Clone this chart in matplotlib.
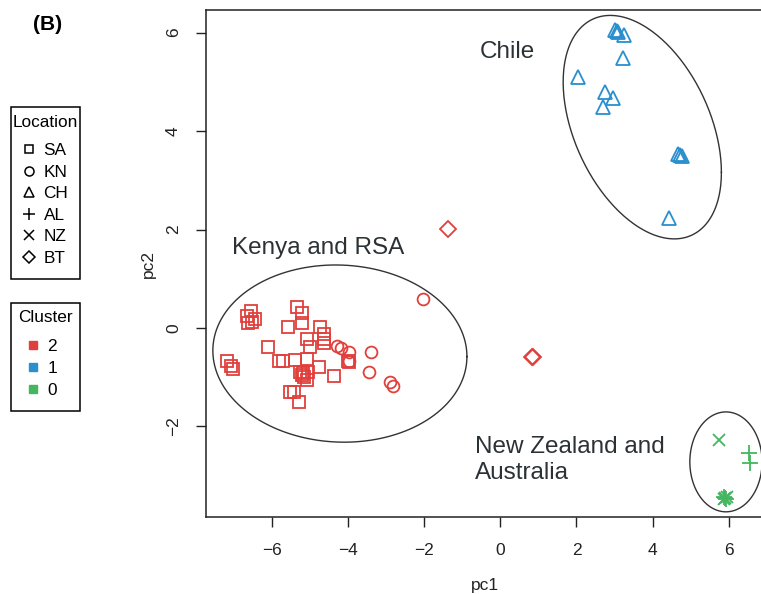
import numpy as np
import matplotlib
matplotlib.use("Agg")
import matplotlib.pyplot as plt
from matplotlib.lines import Line2D
from matplotlib.patches import Rectangle

plt.rcParams['font.family'] = ['Liberation Sans', 'DejaVu Sans']

# ---- data (pc1, pc2) ----
sa_x = [-6.56, -6.45, -6.67, -6.63, -6.54, -7.19, -7.09, -7.04, -5.35, -5.21,
        -5.59, -5.21, -6.10, -5.09, -5.00, -4.74, -4.64, -4.64, -4.64, -5.82,
        -5.71, -5.39, -5.09, -4.77, -5.22, -5.16, -5.09, -4.37, -4.01, -3.99,
        -5.53, -5.42, -5.30, -5.18, -5.27, -5.06]
sa_y = [0.35, 0.18, 0.24, 0.10, 0.13, -0.68, -0.77, -0.84, 0.42, 0.31,
        0.03, 0.10, -0.38, -0.23, -0.39, 0.01, -0.12, -0.23, -0.30, -0.68,
        -0.67, -0.65, -0.64, -0.79, -0.95, -0.99, -1.06, -0.97, -0.68, -0.70,
        -1.31, -1.31, -1.50, -0.91, -0.89, -0.89]

kn_x = [-2.04, -4.30, -4.20, -3.97, -3.97, -3.41, -3.46, -2.90, -2.83]
kn_y = [0.58, -0.37, -0.41, -0.49, -0.68, -0.49, -0.89, -1.09, -1.17]

ch_x = [3.02, 3.06, 3.09, 3.25, 3.23, 2.04, 2.75, 2.96, 2.71, 4.73, 4.67, 4.78, 4.44]
ch_y = [6.05, 6.04, 6.02, 5.95, 5.48, 5.10, 4.80, 4.68, 4.49, 3.51, 3.53, 3.49, 2.23]

al_x = [6.54, 6.57, 5.90, 5.93, 5.88]
al_y = [-2.53, -2.75, -3.45, -3.47, -3.44]

nz_x = [5.76, 5.91, 5.95, 5.89]
nz_y = [-2.27, -3.46, -3.44, -3.48]

bt_x = [-1.37, 0.84, 0.85]
bt_y = [2.02, -0.58, -0.59]

# cluster ellipses: centre and shape matrix
ell_centres = [(-4.22, -0.52), (3.73, 4.08), (5.93, -2.72)]
ell_shapes = [[[3.34 ** 2, -0.2], [-0.2, 1.80 ** 2]],
              [[2.08 ** 2, -1.91], [-1.91, 2.27 ** 2]],
              [[0.95 ** 2, 0.0], [0.0, 1.015 ** 2]]]

loc_names = ['SA', 'KN', 'CH', 'AL', 'NZ', 'BT']
cl_names = ['2', '1', '0']

red, blue, green = '#E0403C', '#2A8FCF', '#43B65F'
txt_col = '#2b3236'
W, H = 761, 594

fig = plt.figure(figsize=(W / 100, H / 100), dpi=100)
ax = fig.add_axes([206 / W, 77 / H, 558 / W, 507 / H])

mk = dict(linestyle='none', markerfacecolor='none', markeredgewidth=1.3)
ax.plot(sa_x, sa_y, marker='s', markersize=8, markeredgecolor=red, **mk)
ax.plot(kn_x, kn_y, marker='o', markersize=8.5, markeredgecolor=red, **mk)
ax.plot(bt_x, bt_y, marker='D', markersize=8, markeredgecolor=red, **mk)
ax.plot(ch_x, ch_y, marker='^', markersize=10, markeredgecolor=blue, **mk)
ax.plot(al_x, al_y, marker='+', markersize=12, markeredgecolor=green, **mk)
ax.plot(nz_x, nz_y, marker='x', markersize=8.5, markeredgecolor=green, **mk)

t = np.linspace(0, 2 * np.pi, 300)
for c, s in zip(ell_centres, ell_shapes):
    L = np.linalg.cholesky(np.array(s))
    pts = L @ np.vstack([np.cos(t), np.sin(t)])
    ax.plot(c[0] + pts[0], c[1] + pts[1], color='#333333', lw=1.0)

ax.text(0.18, 5.61, 'Chile', fontsize=17.5, color=txt_col, ha='center', va='center')
ax.text(-7.06, 1.62, 'Kenya and RSA', fontsize=17.5, color=txt_col, ha='left', va='center')
ax.text(-0.67, -2.68, 'New Zealand and\nAustralia', fontsize=17.5, color=txt_col,
        ha='left', va='center', linespacing=1.2)

ax.set_xlim(-7.74, 6.93)
ax.set_ylim(-3.84, 6.46)
ax.set_xticks([-6, -4, -2, 0, 2, 4, 6])
ax.set_yticks([-2, 0, 2, 4, 6])
ax.set_xticklabels(['\u22126', '\u22124', '\u22122', '0', '2', '4', '6'])
ax.set_yticklabels(['\u22122', '0', '2', '4', '6'], rotation=90, va='center')
ax.tick_params(direction='out', length=7, width=1, labelsize=12.5, colors='#222222')
ax.tick_params(axis='x', pad=12)
ax.tick_params(axis='y', pad=11)
for sp in ax.spines.values():
    sp.set_linewidth(1.1)
    sp.set_color('#222222')
ax.set_xlabel('pc1', fontsize=12.5, labelpad=14, color='#222222')
ax.set_ylabel('pc2', fontsize=12.5, labelpad=7.5, color='#222222')

fig.text(48 / W, 1 - 25 / H, '(B)', fontsize=15, fontweight='bold', ha='center', va='center')

# legend boxes (R style): frame + title drawn by hand, entries via legend
for (x0, y0, x1, y1), title, ty in [((11, 107, 80, 279), 'Location', 122.5),
                                     ((11, 303, 80, 411), 'Cluster', 318)]:
    fig.add_artist(Rectangle((x0 / W, 1 - y1 / H), (x1 - x0) / W, (y1 - y0) / H,
                             transform=fig.transFigure, fill=False, lw=1.1, ec='black'))
    fig.text(45.5 / W, 1 - ty / H, title, fontsize=12.4, ha='center', va='center')

loc_marks = ['s', 'o', '^', '+', 'x', 'D']
loc_sizes = [6, 6.5, 7.5, 9, 6.5, 6]
h1 = [Line2D([], [], linestyle='none', marker=m, markersize=ms, markerfacecolor='none',
             markeredgecolor='black', markeredgewidth=1.1) for m, ms in zip(loc_marks, loc_sizes)]
fig.legend(h1, loc_names, loc='upper left', bbox_to_anchor=(22 / W, 1 - 143 / H),
           fontsize=12.4, frameon=False, handlelength=0.8, handletextpad=0.45,
           borderpad=0, labelspacing=0.38, borderaxespad=0, alignment='left')

cl_cols = [red, blue, green]
h2 = [Line2D([], [], linestyle='none', marker='s', markersize=6, markerfacecolor=c,
             markeredgecolor=c) for c in cl_cols]
fig.legend(h2, cl_names, loc='upper left', bbox_to_anchor=(26 / W, 1 - 339 / H),
           fontsize=12.4, frameon=False, handlelength=0.8, handletextpad=0.45,
           borderpad=0, labelspacing=0.39, borderaxespad=0, alignment='left')

fig.savefig('out.png', dpi=100)
